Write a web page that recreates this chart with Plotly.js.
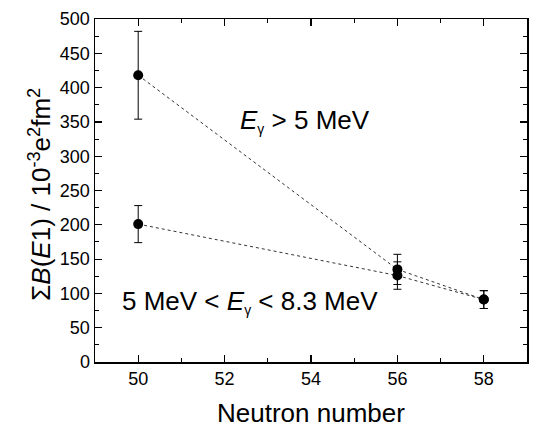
<!DOCTYPE html>
<html><head><meta charset="utf-8">
<script src="https://cdn.plot.ly/plotly-3.0.1.min.js"></script>
<style>html,body{margin:0;padding:0;background:#fff}#chart{width:534px;height:426px}</style>
</head><body><div id="chart"></div>
<script>
const neutronNumber = [50, 56, 58];
const bE1Above5 = [418, 135, 91];
const errAbove5 = [64, 22, 13];
const bE1Window = [201, 126, 91];
const errWindow = [27, 20, 13];
const gammaSub = "<sub><span style=\"font-size:14px\">γ</span></sub>";
const labelAbove5 = "<i>E</i>" + gammaSub + " > 5 MeV";
const labelWindow = "5 MeV < <i>E</i>" + gammaSub + " < 8.3 MeV";
const xTitle = "Neutron number";
const yTitle = "Σ<i>B</i>(<i>E</i>1) / 10<sup>-3</sup>e<sup>2</sup>fm<sup>2</sup>";

const FONT = "Liberation Sans, Arial, sans-serif";
function series(y, err) {
  return {
    x: neutronNumber, y: y, type: 'scatter', mode: 'lines+markers',
    line: {color: '#333', width: 1, dash: 'dot'},
    marker: {color: '#000', size: 10},
    error_y: {type: 'data', array: err, visible: true, color: '#000', thickness: 1, width: 4},
    showlegend: false
  };
}
const axisCommon = {
  showline: true, linecolor: '#000', linewidth: 1.5, mirror: 'allticks',
  ticks: 'inside', ticklen: 7, tickwidth: 1.2, tickcolor: '#000',
  showgrid: false, zeroline: false,
  tickfont: {family: FONT, size: 18, color: '#000'}
};
const layout = {
  width: 534, height: 426,
  margin: {l: 95, r: 7, t: 19, b: 64},
  paper_bgcolor: '#fff', plot_bgcolor: '#fff',
  font: {family: FONT, color: '#000'},
  xaxis: Object.assign({}, axisCommon, {
    range: [49, 59], dtick: 2, tick0: 50,
    minor: {dtick: 1, ticks: 'inside', ticklen: 4, tickcolor: '#000', tickwidth: 1}
  }),
  yaxis: Object.assign({}, axisCommon, {
    range: [0, 500], dtick: 50,
    minor: {dtick: 25, ticks: 'inside', ticklen: 4, tickcolor: '#000', tickwidth: 1}
  }),
  annotations: [
    {x: 53.85, y: 352, xref: 'x', yref: 'y', text: labelAbove5, showarrow: false,
     font: {family: FONT, size: 26, color: '#000'}},
    {x: 52.58, y: 88, xref: 'x', yref: 'y', text: labelWindow, showarrow: false,
     font: {family: FONT, size: 26, color: '#000'}},
    {x: 0.5, y: -0.1, xref: 'paper', yref: 'paper', xanchor: 'center', yanchor: 'top',
     text: xTitle, showarrow: false, font: {family: FONT, size: 26, color: '#000'}},
    {x: -0.127, y: 0.488, xref: 'paper', yref: 'paper', xanchor: 'center', yanchor: 'middle',
     textangle: -90, text: yTitle, showarrow: false, font: {family: FONT, size: 26, color: '#000'}}
  ]
};
Plotly.newPlot('chart', [series(bE1Above5, errAbove5), series(bE1Window, errWindow)], layout, {displayModeBar: false, staticPlot: true});
</script></body></html>
